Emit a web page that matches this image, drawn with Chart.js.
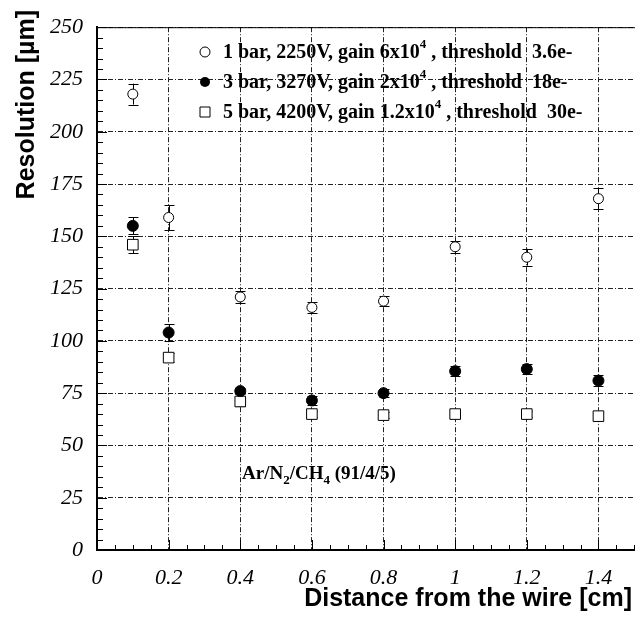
<!DOCTYPE html>
<html>
<head>
<meta charset="utf-8">
<script src="https://cdn.jsdelivr.net/npm/chart.js@4"></script>
<style>
  html, body { margin: 0; padding: 0; background: #fff; overflow: hidden; }
  #wrap { width: 635px; height: 617px; overflow: hidden; }
</style>
</head>
<body>
<div id="wrap"><canvas id="MyChart" width="645" height="617"></canvas></div>
<script>
// distance from the wire [cm]
let distances = [0.1, 0.2, 0.4, 0.6, 0.8, 1.0, 1.2, 1.4]

// resolution [um] and errors
let res1bar = [218, 159, 121, 116, 119, 145, 140, 168]
let err1bar = [5, 6, 3, 2.5, 2.5, 3, 4, 5]
let res3bar = [155, 104, 76, 71.5, 75, 85.5, 86.5, 81]
let err3bar = [4, 4, 1.5, 2, 2, 2.5, 2.5, 2.5]
let res5bar = [146, 92, 71, 65, 64.5, 65, 65, 64]
let err5bar = [4, 2, 2, 1.5, 1.5, 1.5, 1.5, 1.5]

let legendLabels = [
    ['1 bar, 2250V, gain 6x10', '4', ' , threshold  3.6e-'],
    ['3 bar, 3270V, gain 2x10', '4', ' , threshold  18e-'],
    ['5 bar, 4200V, gain 1.2x10', '4', ' , threshold  30e-']
]

const serif = "'Liberation Serif', 'Times New Roman', serif"
const sans = "'Liberation Sans', Arial, sans-serif"

function points(ys) {
    return distances.map((x, i) => ({ x: x, y: ys[i] }))
}

const errorsByDataset = [err1bar, err3bar, err5bar]

const errorBars = {
    id: 'errorBars',
    beforeDatasetsDraw(chart) {
        const ctx = chart.ctx
        const yScale = chart.scales.y
        ctx.save()
        ctx.strokeStyle = '#000'
        ctx.lineWidth = 1
        chart.data.datasets.forEach((ds, i) => {
            const meta = chart.getDatasetMeta(i)
            meta.data.forEach((pt, j) => {
                const v = ds.data[j].y
                const e = errorsByDataset[i][j]
                const x = Math.round(pt.x) + 0.5
                const yt = yScale.getPixelForValue(v + e)
                const yb = yScale.getPixelForValue(v - e)
                ctx.beginPath()
                ctx.moveTo(x, yt); ctx.lineTo(x, yb)
                ctx.moveTo(x - 5, Math.round(yt) + 0.5); ctx.lineTo(x + 5, Math.round(yt) + 0.5)
                ctx.moveTo(x - 5, Math.round(yb) + 0.5); ctx.lineTo(x + 5, Math.round(yb) + 0.5)
                ctx.stroke()
            })
        })
        ctx.restore()
    }
}

function drawParts(ctx, x, y, parts, font, smallFont, shift) {
    // parts alternate normal text and a super/subscript; shift < 0 raises it
    parts.forEach((p, k) => {
        if (k % 2 === 1) {
            ctx.font = smallFont
            ctx.fillText(p, x, y + shift)
        } else {
            ctx.font = font
            ctx.fillText(p, x, y)
        }
        x += ctx.measureText(p).width
    })
}

const decorations = {
    id: 'decorations',
    afterDraw(chart) {
        const ctx = chart.ctx
        const a = chart.chartArea
        const xs = chart.scales.x
        const ys = chart.scales.y
        ctx.save()
        ctx.strokeStyle = '#000'
        ctx.fillStyle = '#000'

        // frame top
        ctx.lineWidth = 1
        ctx.beginPath()
        ctx.moveTo(a.left, a.top + 0.5); ctx.lineTo(a.right, a.top + 0.5)
        ctx.stroke()

        // minor ticks
        ctx.beginPath()
        for (let v = 0; v <= 250; v += 5) {
            const y = Math.round(ys.getPixelForValue(v)) + 0.5
            const len = v % 25 === 0 ? 10 : 6
            ctx.moveTo(a.left, y); ctx.lineTo(a.left + len, y)
        }
        for (let k = 0; k <= 30; k++) {
            const x = Math.round(xs.getPixelForValue(k * 0.05)) + 0.5
            const len = k % 4 === 0 ? 10 : 5
            ctx.moveTo(x, a.bottom); ctx.lineTo(x, a.bottom - len)
        }
        ctx.stroke()

        // legend
        const lx = 205
        const rows = [52, 82, 112]
        const bold = 'bold 20px ' + serif
        const boldSmall = 'bold 13px ' + serif
        rows.forEach((ry, i) => {
            ctx.lineWidth = 1
            ctx.beginPath()
            if (i === 0) {
                ctx.arc(lx, ry, 5, 0, Math.PI * 2)
                ctx.stroke()
            } else if (i === 1) {
                ctx.arc(lx, ry, 5, 0, Math.PI * 2)
                ctx.fill()
            } else {
                ctx.rect(lx - 5, ry - 5, 10, 10)
                ctx.stroke()
            }
            ctx.textAlign = 'left'
            ctx.textBaseline = 'alphabetic'
            drawParts(ctx, 223, ry + 6, legendLabels[i], bold, boldSmall, -10)
        })

        // gas mixture note
        drawParts(ctx, 242, 479, ['Ar/N', '2', '/CH', '4', ' (91/4/5)'],
            'bold 19px ' + serif, 'bold 13px ' + serif, 5)

        // axis titles
        ctx.font = 'bold 25px ' + sans
        ctx.textAlign = 'right'
        ctx.textBaseline = 'alphabetic'
        ctx.fillText('Distance from the wire [cm]', 632, 606)

        ctx.save()
        ctx.translate(34, 10)
        ctx.rotate(-Math.PI / 2)
        ctx.textAlign = 'right'
        ctx.fillText('Resolution [\u00b5m]', 0, 0)
        ctx.restore()

        ctx.restore()
    }
}

let MyChart = document.getElementById('MyChart').getContext('2d')

let resolutionChart = new Chart(MyChart, {
    type: 'scatter',
    data: {
        datasets: [{
            label: '1 bar',
            data: points(res1bar),
            pointStyle: 'circle',
            pointRadius: 5,
            backgroundColor: '#fff',
            borderColor: '#000',
            borderWidth: 1
        }, {
            label: '3 bar',
            data: points(res3bar),
            pointStyle: 'circle',
            pointRadius: 5.5,
            backgroundColor: '#000',
            borderColor: '#000',
            borderWidth: 1
        }, {
            label: '5 bar',
            data: points(res5bar),
            pointStyle: 'rect',
            pointRadius: 7.5,
            backgroundColor: '#fff',
            borderColor: '#000',
            borderWidth: 1
        }]
    },
    options: {
        responsive: false,
        animation: false,
        layout: { autoPadding: false, padding: { left: 0, top: 12, right: 0, bottom: 0 } },
        plugins: {
            legend: { display: false },
            tooltip: { enabled: false },
            title: { display: false }
        },
        scales: {
            x: {
                type: 'linear',
                min: 0,
                max: 1.53,
                afterFit: s => { s.height = 67 },
                border: { display: true, color: '#000', width: 2, dash: [5, 2, 1, 2] },
                grid: { color: '#222', lineWidth: 1, drawTicks: false },
                ticks: {
                    stepSize: 0.2,
                    includeBounds: false,
                    padding: 15,
                    color: '#000',
                    font: { family: serif, style: 'italic', size: 22 },
                    callback: v => String(Number(v.toFixed(1)))
                }
            },
            y: {
                min: 0,
                max: 250,
                afterFit: s => { s.width = 97 },
                border: { display: true, color: '#000', width: 2, dash: [5, 2, 1, 2] },
                grid: { color: '#222', lineWidth: 1, drawTicks: false },
                ticks: {
                    stepSize: 25,
                    padding: 14,
                    color: '#000',
                    font: { family: serif, style: 'italic', size: 22 }
                }
            }
        }
    },
    plugins: [errorBars, decorations]
})
</script>
</body>
</html>
